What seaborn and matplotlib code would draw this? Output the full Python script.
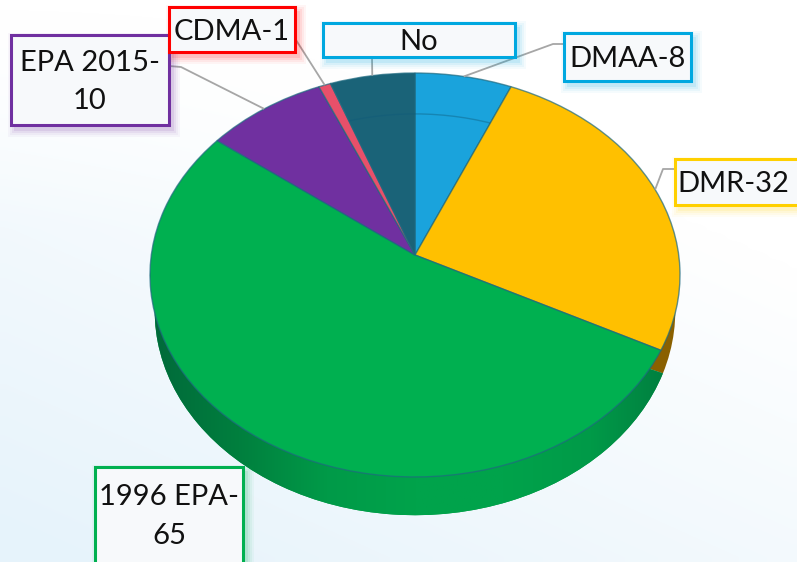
import numpy as np
import matplotlib
matplotlib.use('Agg')
import matplotlib.pyplot as plt
import seaborn as sns
from matplotlib.colors import LinearSegmentedColormap, to_rgba
from matplotlib.patches import Circle, Rectangle
from matplotlib.transforms import Transform

# slices, clockwise from 12 o'clock
names = ['DMAA-8', 'DMR-32', '1996 EPA-\n65', 'EPA 2015-\n10', 'CDMA-1', 'No']
values = [8, 32, 65, 10, 1, 7]
top_colors = ['#1aa3dc', '#ffc000', '#00b050', '#7030a0', '#e8506a', '#1a6378']
side_colors = ['#0e6a90', '#8a6000', '#009a45', '#4a2070', '#a03048', '#0f4050']
border_colors = ['#00a8e0', '#ffd000', '#00b050', '#7030a0', '#ff0000', '#00a8e0']


class PieTilt(Transform):
    # unit circle -> pixels, a bit of perspective so the apex is not the ellipse centre
    input_dims = 2
    output_dims = 2
    is_separable = False

    def __init__(self, cx, cy, b, a, k):
        super().__init__()
        self.cx, self.cy, self.b, self.a, self.k = cx, cy, b, a, k

    def transform_non_affine(self, values):
        xy = np.asarray(values, dtype=float)
        d = 1 + self.k * xy[:, 1]
        return np.column_stack([self.cx + self.b * xy[:, 0] / d,
                                self.cy - self.a * xy[:, 1] / d])


sns.set_theme(style='white')
plt.rcParams['font.family'] = ['Lato', 'DejaVu Sans']

fig = plt.figure(figsize=(7.97, 5.62), dpi=100)
ax = fig.add_axes([0, 0, 1, 1])

top_tilt = PieTilt(415, 255, 263.7, 200, 0.099)
low_tilt = PieTilt(415, 291, 259, 202, 0.099)

# the wall pie is turned a few degrees so only a sliver of orange shows past the rim
low, _ = ax.pie(values, startangle=94, counterclock=False, colors=sns.color_palette(side_colors),
                wedgeprops={'linewidth': 0, 'zorder': 2.5})
top, _ = ax.pie(values, startangle=90, counterclock=False, colors=sns.color_palette(top_colors),
                wedgeprops={'linewidth': 1, 'edgecolor': to_rgba('#1f6a80', 0.7), 'zorder': 3})
for w in low:
    w.set_transform(low_tilt + ax.transData)
for w in top:
    w.set_transform(top_tilt + ax.transData)

ax.set_aspect('auto')
ax.axis('off')

# pale blue page behind the pie
yy, xx = np.mgrid[0:1:60j, 0:1:80j]
wash = np.clip((yy - 0.15) * 0.7 + (0.5 - xx) * 0.45, 0, 1) * np.clip(yy * 2.5, 0, 1)
page = LinearSegmentedColormap.from_list('page', ['#ffffff', '#e6f3fb'])
ax.imshow(wash, extent=(0, 797, 562, 0), cmap=page, vmin=0, vmax=0.8, aspect='auto',
          interpolation='bilinear', zorder=0)

# shading on the green side wall
side = LinearSegmentedColormap.from_list(
    'side', ['#00693a', '#007f3e', '#009a48', '#00a34b', '#00a34b', '#009a48', '#007a3e'])
im = ax.imshow(np.linspace(0, 1, 256)[None, :], extent=(150, 680, 520, 250), cmap=side,
               aspect='auto', zorder=2.6)
im.set_clip_path(low[2])

# back rim showing through the two front slices
for i in [0, 5]:
    rim = Circle((0, 0), 0.96, fill=False, edgecolor=to_rgba('#0f5a78', 0.4), linewidth=1,
                 transform=low_tilt + ax.transData, zorder=4)
    ax.add_patch(rim)
    rim.set_clip_path(top[i])

ax.set_xlim(0, 797)
ax.set_ylim(562, 0)

# label boxes: left, top, right, bottom
boxes = [(564, 33, 691, 81), (675, 159, 810, 205), (95, 467, 243, 575),
         (11, 35, 169, 125), (169, 7, 295, 52), (323, 23, 515, 57)]
# leader path from the box to the elbow, None if the slice has none
leaders = [[(564, 44), (553, 44)], [(675, 169), (663, 169)], None,
           [(169, 66), (181, 67)], [(296, 40)], [(372, 57)]]

for i, w in enumerate(top):
    if leaders[i] is not None:
        mid = np.radians((w.theta1 + w.theta2) / 2)
        end = top_tilt.transform_non_affine(np.array([[np.cos(mid), np.sin(mid)]]))[0]
        pts = np.array(leaders[i] + [tuple(end)])
        ax.plot(pts[:, 0], pts[:, 1], color='#a6a6a6', lw=1.3, zorder=5, solid_capstyle='butt')

    x0, y0, x1, y1 = boxes[i]
    for grow, alpha in zip([7, 5, 3, 1], [0.04, 0.05, 0.07, 0.1]):
        ax.add_patch(Rectangle((x0 - grow + 4, y0 - grow + 5), x1 - x0 + 2 * grow, y1 - y0 + 2 * grow,
                               facecolor=to_rgba(border_colors[i], alpha), edgecolor='none', zorder=6))
    ax.add_patch(Rectangle((x0, y0), x1 - x0, y1 - y0, facecolor='#f7f9fb',
                           edgecolor=border_colors[i], linewidth=2.2, zorder=7))
    ax.text((min(x1, 797) + x0) / 2 if i != 1 else 733, (y0 + min(y1, 562)) / 2 + 2, names[i],
            ha='center', va='center', fontsize=21, color='#111111', linespacing=1.6, zorder=8)

fig.savefig('out.png', dpi=100)
